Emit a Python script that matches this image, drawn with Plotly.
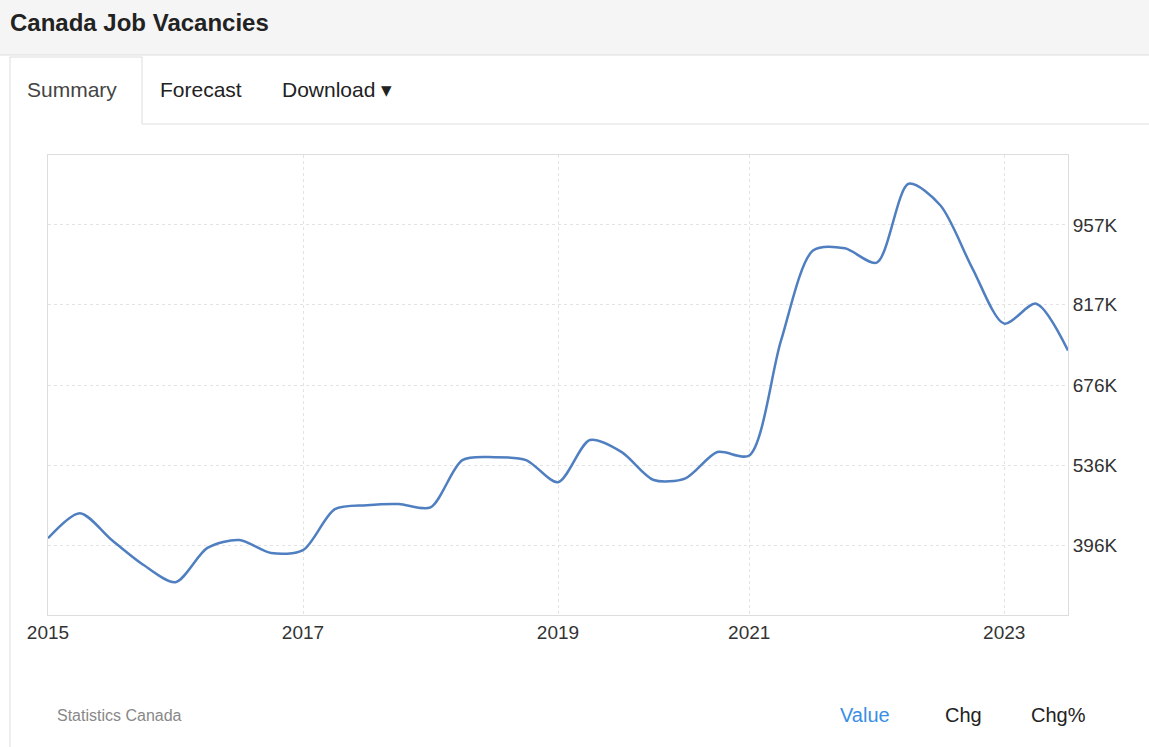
import plotly.graph_objects as go

quarters = ["2015Q1","2015Q2","2015Q3","2015Q4","2016Q1","2016Q2","2016Q3","2016Q4",
            "2017Q1","2017Q2","2017Q3","2017Q4","2018Q1","2018Q2","2018Q3","2018Q4",
            "2019Q1","2019Q2","2019Q3","2019Q4","2020Q1","2020Q4",
            "2021Q1","2021Q2","2021Q3","2021Q4","2022Q1","2022Q2","2022Q3","2022Q4",
            "2023Q1","2023Q2","2023Q3"]
vacancies = [408,452,405,361,331,391,405,382,387,459,466,468,462,545,550,545,
             506,580,559,510,513,559,553,755,912,916,891,1029,991,881,784,819,737]
tick_quarters = ["2015Q1","2017Q1","2019Q1","2021Q1","2023Q1"]
tick_labels = ["2015","2017","2019","2021","2023"]
ytick_vals = [396,536,676,817,957]
ytick_labels = ["396K","536K","676K","817K","957K"]

W, H = 1149, 747
idx = list(range(len(quarters)))
tv = [quarters.index(q) for q in tick_quarters]

fig = go.Figure(go.Scatter(x=idx, y=vacancies, mode="lines",
                           line=dict(color="#4f7fc0", width=2.5, shape="spline", smoothing=0.8),
                           hoverinfo="skip"))

def px(x): return x / W
def py(y): return 1 - y / H

shapes = [
    dict(type="rect", xref="paper", yref="paper", x0=0, x1=1, y0=py(55), y1=1,
         fillcolor="#f5f5f5", line=dict(width=0), layer="below"),
    dict(type="line", xref="paper", yref="paper", x0=0, x1=1, y0=py(55), y1=py(55),
         line=dict(color="#dddddd", width=1)),
    dict(type="line", xref="paper", yref="paper", x0=px(142), x1=1, y0=py(124), y1=py(124),
         line=dict(color="#dddddd", width=1)),
    dict(type="line", xref="paper", yref="paper", x0=px(10), x1=px(10), y0=0, y1=py(57),
         line=dict(color="#dddddd", width=1)),
    dict(type="line", xref="paper", yref="paper", x0=px(142), x1=px(142), y0=py(124), y1=py(57),
         line=dict(color="#dddddd", width=1)),
    dict(type="line", xref="paper", yref="paper", x0=px(10), x1=px(142), y0=py(57), y1=py(57),
         line=dict(color="#dddddd", width=1)),
]

ann = [
    dict(text="<b>Canada Job Vacancies</b>", x=px(8), y=py(22), font=dict(size=24, color="#222")),
    dict(text="Summary", x=px(25), y=py(89), font=dict(size=21, color="#444")),
    dict(text="Forecast", x=px(158), y=py(89), font=dict(size=21, color="#222")),
    dict(text="Download ▾", x=px(280), y=py(89), font=dict(size=21, color="#222")),
    dict(text="Statistics Canada", x=px(55), y=py(715), font=dict(size=16, color="#888")),
    dict(text="Value", x=px(838), y=py(715), font=dict(size=20, color="#3a8ee6")),
    dict(text="Chg", x=px(943), y=py(715), font=dict(size=20, color="#222")),
    dict(text="Chg%", x=px(1029), y=py(715), font=dict(size=20, color="#222")),
]
for a in ann:
    a.update(xref="paper", yref="paper", xanchor="left", yanchor="middle", showarrow=False)

fig.update_layout(
    width=W, height=H, margin=dict(l=0, r=0, t=0, b=0, pad=0, autoexpand=False),
    paper_bgcolor="white", plot_bgcolor="white", showlegend=False,
    font=dict(family="Arial, Liberation Sans", color="#333"),
    shapes=shapes, annotations=ann,
    xaxis=dict(domain=[px(48), px(1068)], range=[0, len(quarters) - 1], automargin=False,
               tickvals=tv, ticktext=tick_labels, tickfont=dict(size=19, color="#333"),
               showgrid=True, gridcolor="#e3e3e3", griddash="dot", zeroline=False,
               showline=True, linecolor="#dddddd", mirror=True, ticks=""),
    yaxis=dict(domain=[py(615), py(155)], range=[273.5, 1079.5], side="right", automargin=False,
               tickvals=ytick_vals, ticktext=ytick_labels, tickfont=dict(size=19, color="#333"),
               showgrid=True, gridcolor="#e3e3e3", griddash="dot", zeroline=False,
               showline=True, linecolor="#dddddd", mirror=True),
)
fig.write_html("out.html", config={"displayModeBar": False},
               post_script="document.body.style.margin='0';document.body.style.overflow='hidden';")
